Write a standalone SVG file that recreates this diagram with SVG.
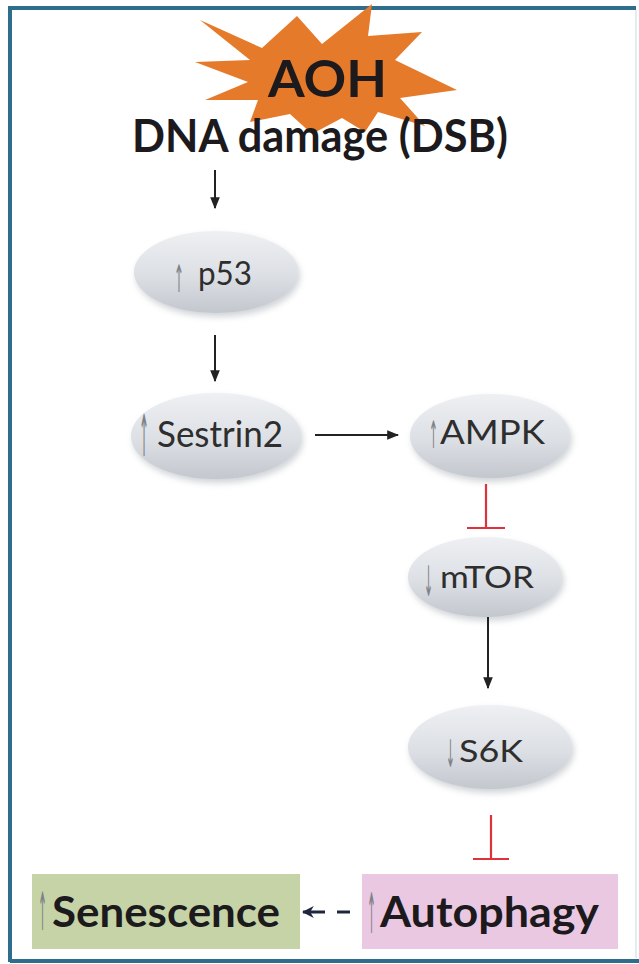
<svg xmlns="http://www.w3.org/2000/svg" width="639" height="964" viewBox="0 0 639 964">
<defs>
<linearGradient id="eg" x1="0" y1="0" x2="0" y2="1">
<stop offset="0" stop-color="#eef0f3"/>
<stop offset="0.55" stop-color="#dcdfe4"/>
<stop offset="1" stop-color="#c3c7ce"/>
</linearGradient>
<filter id="sh" x="-20%" y="-20%" width="140%" height="150%">
<feGaussianBlur stdDeviation="3"/>
</filter>
<marker id="ah" viewBox="0 0 10 10" refX="9" refY="5" markerWidth="6" markerHeight="6" orient="auto" markerUnits="strokeWidth">
<path d="M0,1 L10,5 L0,9 z" fill="#222"/>
</marker>
<marker id="ahn" viewBox="0 0 10 10" refX="9" refY="5" markerWidth="4" markerHeight="4" orient="auto" markerUnits="strokeWidth">
<path d="M0,0 L10,5 L0,10 L3,5 z" fill="#1f2640"/>
</marker>
</defs>
<style>
.node ellipse.b{fill:url(#eg);}
.node ellipse.s{fill:#9aa0a8;opacity:0.45;filter:url(#sh);}
.lbl{font-family:Lato,"Open Sans","Liberation Sans",sans-serif;fill:#2e2e2e;}
.arr{font-family:"DejaVu Sans",sans-serif;fill:#7d8288;font-weight:normal;}
.big{font-family:Lato,"Open Sans","Liberation Sans",sans-serif;font-weight:bold;fill:#1c1a1c;}
.act{stroke:#222;stroke-width:2;fill:none;marker-end:url(#ah);}
.inh{stroke:#e0323c;stroke-width:2.2;fill:none;}
</style>
<rect x="0" y="0" width="639" height="964" fill="#ffffff"/>
<g id="frame" fill="none">
<path d="M10,962 L10,8 L636,8" stroke="#2f6d8c" stroke-width="4"/>
<path d="M10,961 L639,961" stroke="#2f6d8c" stroke-width="4"/>
<path d="M636,10 L636,958" stroke="#e4ecf0" stroke-width="2"/>
</g>
<g id="aoh">
<polygon points="200,20 262,48 297,16 322,44 372,4 368,36 422,32 395,60 457,90 400,98 425,126 378,112 365,132 342,118 312,134 290,114 250,122 258,100 205,100 248,82 195,62 250,60" fill="#e57a2b"/>
<text class="big" x="268" y="97" font-size="52" textLength="119" lengthAdjust="spacingAndGlyphs">AOH</text>
</g>
<g id="dna">
<text class="big" x="132" y="152" font-size="46" textLength="376" lengthAdjust="spacingAndGlyphs">DNA damage (DSB)</text>
</g>
<g id="p53" class="node">
<ellipse class="s" cx="218" cy="276" rx="82" ry="41"/>
<ellipse class="b" cx="216" cy="272" rx="82" ry="41"/>
<text class="lbl" font-size="33"><tspan class="arr" x="174" y="292" font-size="38" textLength="10" lengthAdjust="spacingAndGlyphs">↑</tspan><tspan x="198" y="285" textLength="54" lengthAdjust="spacingAndGlyphs">p53</tspan></text>
</g>
<g id="sestrin2" class="node">
<ellipse class="s" cx="218" cy="440" rx="85" ry="43"/>
<ellipse class="b" cx="216" cy="436" rx="85" ry="43"/>
<text class="lbl" font-size="36"><tspan class="arr" x="139" y="456" font-size="58" textLength="10" lengthAdjust="spacingAndGlyphs">↑</tspan><tspan x="157" y="447" textLength="126" lengthAdjust="spacingAndGlyphs">Sestrin2</tspan></text>
</g>
<g id="ampk" class="node">
<ellipse class="s" cx="492" cy="440" rx="80" ry="42"/>
<ellipse class="b" cx="490" cy="436" rx="80" ry="42"/>
<text class="lbl" font-size="33"><tspan class="arr" x="429" y="448" font-size="38" textLength="9" lengthAdjust="spacingAndGlyphs">↑</tspan><tspan x="440" y="444" textLength="105" lengthAdjust="spacingAndGlyphs">AMPK</tspan></text>
</g>
<g id="mtor" class="node">
<ellipse class="s" cx="487" cy="581" rx="77" ry="40"/>
<ellipse class="b" cx="485" cy="577" rx="77" ry="40"/>
<text class="lbl" font-size="31"><tspan class="arr" x="424" y="596" font-size="42" textLength="9" lengthAdjust="spacingAndGlyphs">↓</tspan><tspan x="440" y="588" textLength="94" lengthAdjust="spacingAndGlyphs">mTOR</tspan></text>
</g>
<g id="s6k" class="node">
<ellipse class="s" cx="492" cy="751" rx="82" ry="42"/>
<ellipse class="b" cx="490" cy="747" rx="82" ry="42"/>
<text class="lbl" font-size="31"><tspan class="arr" x="446" y="767" font-size="38" textLength="9" lengthAdjust="spacingAndGlyphs">↓</tspan><tspan x="459" y="762" textLength="64" lengthAdjust="spacingAndGlyphs">S6K</tspan></text>
</g>
<g id="senescence">
<rect x="32" y="874" width="268" height="75" fill="#c5d3a6"/>
<text class="big" font-size="42"><tspan class="arr" x="38" y="930" font-size="53" textLength="9" lengthAdjust="spacingAndGlyphs">↑</tspan><tspan x="52" y="927" textLength="228" lengthAdjust="spacingAndGlyphs">Senescence</tspan></text>
</g>
<g id="autophagy">
<rect x="362" y="874" width="256" height="75" fill="#ebc8e2"/>
<text class="big" font-size="42"><tspan class="arr" x="367" y="933" font-size="56" textLength="9" lengthAdjust="spacingAndGlyphs">↑</tspan><tspan x="380" y="927" textLength="219" lengthAdjust="spacingAndGlyphs">Autophagy</tspan></text>
</g>
<g id="connectors">
<path class="act" d="M215,170 L215,208"/>
<path class="act" d="M215,335 L215,381"/>
<path class="act" d="M315,435 L398,435"/>
<path class="inh" d="M486,484 L486,528 M467,528 L505,528"/>
<path class="act" d="M488,617 L488,688"/>
<path class="inh" d="M491,815 L491,859 M473,859 L509,859"/>
<path d="M350,912 L337,912" stroke="#1f2640" stroke-width="3" fill="none"/>
<path d="M325,912 L303,912" stroke="#1f2640" stroke-width="3" fill="none" marker-end="url(#ahn)"/>
</g>
</svg>
